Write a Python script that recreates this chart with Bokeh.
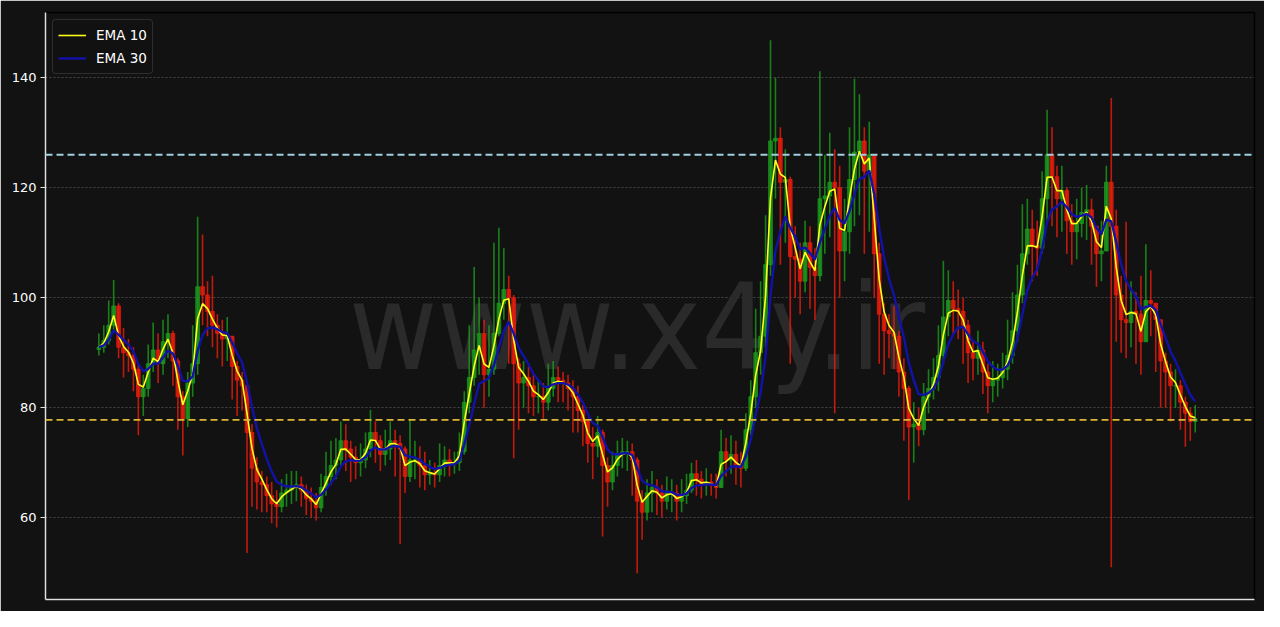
import numpy as np
import pandas as pd
from bokeh.plotting import figure
from bokeh.models import Span, FixedTicker, Range1d
from bokeh.core.properties import value
from bokeh.embed import file_html
from bokeh.resources import INLINE

# ---- data (one drawn candle ~ 5 source bars) ----
close = [
    91.0, 92.2, 95.0, 98.5, 91.0, 90.0, 89.5, 87.0, 82.0, 83.5,
    88.0, 90.5, 88.0, 92.0, 93.5, 88.5, 82.0, 78.0, 84.5, 88.0,
    102.0, 100.5, 97.5, 95.0, 93.5, 92.5, 93.0, 87.5, 85.0, 84.0,
    75.5, 69.0, 66.5, 66.0, 64.0, 62.5, 62.0, 64.5, 65.0, 65.5,
    66.0, 65.0, 63.5, 63.0, 61.8, 65.5, 67.5, 69.5, 70.5, 74.0,
    72.5, 71.0, 70.0, 70.5, 72.5, 75.5, 74.0, 71.5, 72.5, 74.0,
    73.5, 72.5, 67.5, 70.5, 70.5, 69.5, 67.8, 68.0, 67.8, 69.5,
    70.5, 70.0, 70.0, 72.0, 81.0, 85.5, 90.5, 93.5, 86.0, 87.0,
    93.5, 99.0, 101.5, 100.0, 88.0, 84.5, 85.5, 84.0, 82.0, 82.0,
    81.0, 83.5, 85.5, 85.0, 84.5, 83.5, 82.0, 79.5, 77.5, 73.5,
    73.0, 75.5, 69.5, 66.5, 69.5, 71.5, 72.0, 72.0, 70.5, 63.0,
    61.0, 64.5, 65.5, 64.5, 63.0, 64.5, 64.5, 63.0, 64.0, 65.0,
    68.0, 67.0, 66.0, 66.5, 66.0, 65.5, 72.0, 70.5, 71.5, 69.5,
    69.0, 76.0, 82.0, 90.0, 93.0, 106.0, 128.5, 129.0, 121.0, 121.5,
    107.5, 107.0, 103.0, 110.0, 105.5, 104.0, 118.0, 118.5, 121.0, 120.0,
    108.5, 112.0, 121.5, 126.5, 128.5, 123.0, 126.0, 108.0, 97.0, 94.0,
    93.5, 93.0, 86.5, 83.5, 76.5, 77.0, 76.0, 82.0, 83.5, 85.5,
    89.5, 96.5, 99.5, 98.0, 97.5, 95.0, 90.0, 89.0, 90.5, 86.5,
    84.0, 85.0, 85.5, 87.0, 89.5, 94.0, 100.5, 108.0, 112.5, 109.5,
    109.0, 118.0, 126.0, 122.0, 118.0, 119.5, 114.0, 112.0, 113.5, 115.5,
    116.0, 113.0, 108.0, 108.5, 121.0, 113.0, 100.5, 96.0, 95.5, 97.5,
    97.0, 92.0, 99.5, 99.0, 96.0, 88.5, 86.5, 84.0, 84.0, 81.0, 79.0, 77.5, 78.0,
]
high = [
    93.5, 95.0, 99.5, 103.2, 99.0, 94.5, 92.5, 91.0, 88.0, 86.0,
    91.5, 95.5, 93.5, 96.0, 97.0, 94.0, 89.0, 83.0, 86.5, 95.0,
    114.7, 111.5, 103.0, 104.0, 97.0, 96.0, 96.5, 93.0, 88.5, 86.5,
    84.5, 77.0, 71.0, 68.5, 67.5, 66.5, 65.0, 67.0, 68.0, 68.5,
    68.5, 67.5, 66.0, 65.5, 64.5, 68.0, 72.0, 74.0, 74.5, 77.5,
    77.0, 74.0, 73.0, 73.5, 75.5, 79.6, 77.5, 75.0, 76.0, 77.5,
    76.0, 75.0, 73.0, 78.0, 74.0, 73.0, 72.0, 70.5, 70.0, 73.5,
    73.0, 72.5, 72.0, 75.5, 83.0, 95.0, 105.6, 100.0, 96.0, 95.0,
    110.0, 112.7, 109.0, 104.0, 100.5, 89.0, 88.5, 87.5, 86.0, 85.0,
    84.5, 88.0, 88.5, 87.5, 86.5, 86.0, 85.0, 84.0, 80.5, 78.0,
    76.5, 78.5, 76.0, 71.0, 72.0, 74.0, 74.5, 74.0, 73.5, 71.0,
    65.0, 67.0, 68.5, 67.0, 66.0, 67.5, 67.0, 66.0, 67.0, 68.0,
    70.0, 70.5, 68.5, 69.0, 68.0, 68.0, 76.0, 74.5, 75.0, 74.0,
    72.0, 79.0, 85.0, 98.0, 103.0, 115.0, 146.8, 140.0, 131.0, 127.0,
    122.0, 113.0, 110.0, 114.0, 113.0, 109.0, 141.2, 126.0, 130.0, 127.0,
    124.0, 118.0, 131.0, 139.8, 137.0, 131.0, 132.0, 126.0, 110.0, 99.0,
    97.0, 98.5, 94.0, 89.0, 84.0, 81.0, 80.0, 84.5, 87.0, 89.0,
    95.0, 106.7, 105.0, 103.0, 101.5, 100.0, 96.0, 92.0, 94.0, 92.0,
    88.0, 88.5, 88.0, 90.0, 96.0, 101.0, 106.0, 117.0, 118.0, 116.0,
    114.0, 123.0, 134.2, 131.0, 124.0, 124.0, 120.0, 117.0, 118.0, 120.0,
    120.5, 118.0, 113.0, 114.0, 124.0, 136.3, 116.0, 104.0, 113.8, 103.0,
    101.0, 104.0, 109.7, 105.0, 99.0, 94.0, 90.0, 88.0, 87.0, 85.0, 82.0, 80.0, 80.5,
]
low = [
    89.5, 90.0, 91.5, 94.0, 89.0, 85.5, 86.5, 83.0, 75.0, 78.5,
    82.0, 86.5, 84.5, 86.0, 89.0, 84.0, 76.0, 71.3, 76.5, 82.0,
    86.0, 95.0, 93.0, 91.0, 89.0, 87.5, 88.5, 81.5, 78.5, 79.5,
    53.6, 62.0, 61.5, 61.0, 61.0, 59.0, 58.2, 61.0, 62.0, 62.5,
    63.0, 62.0, 60.5, 60.0, 59.5, 61.0, 64.0, 66.0, 67.0, 69.5,
    68.5, 66.5, 67.0, 67.5, 69.0, 71.0, 70.0, 68.5, 69.5, 70.5,
    67.5, 55.2, 64.5, 66.5, 67.0, 65.5, 65.0, 66.0, 65.5, 66.5,
    67.5, 67.5, 68.0, 68.5, 71.5, 79.0, 84.0, 86.0, 80.0, 82.0,
    86.0, 93.0, 96.0, 88.0, 70.8, 76.0, 80.0, 79.0, 78.5, 79.0,
    78.0, 79.5, 82.0, 81.0, 81.0, 79.5, 75.5, 75.5, 73.0, 70.0,
    67.0, 71.0, 56.6, 62.0, 65.0, 67.5, 69.0, 68.5, 64.0, 49.9,
    56.0, 59.5, 61.0, 60.5, 60.0, 61.5, 61.0, 59.5, 61.0, 62.5,
    64.5, 64.0, 63.5, 64.0, 64.0, 63.5, 66.0, 67.5, 68.0, 66.0,
    65.5, 68.5, 75.0, 80.0, 86.0, 91.0, 104.0, 118.0, 106.0, 110.0,
    88.0, 100.0, 97.0, 101.0, 98.0, 96.0, 103.0, 108.0, 111.0, 79.0,
    100.0, 103.0, 108.0, 113.0, 115.0, 108.0, 112.0, 100.0, 88.0, 86.0,
    89.0, 87.0, 82.0, 74.0, 63.2, 70.0, 73.0, 75.0, 79.0, 81.5,
    83.0, 88.0, 93.0, 93.5, 92.5, 88.0, 84.5, 85.0, 86.0, 82.5,
    79.0, 81.0, 82.0, 83.5, 85.0, 88.0, 92.0, 99.0, 106.0, 103.0,
    104.0, 108.0, 114.0, 113.0, 111.0, 112.0, 108.0, 106.0, 107.0, 111.0,
    110.5, 106.0, 102.0, 103.0, 109.0, 51.0, 92.0, 90.0, 89.0, 91.0,
    88.0, 86.0, 92.0, 93.0, 86.5, 80.0, 80.0, 77.5, 80.0, 76.0, 72.9, 74.0, 75.5,
]
first_open = 90.6
y_ticks = [60, 80, 100, 120, 140]
resistance_level = 126.0
support_level = 77.8
ema_fast_label = "EMA 10"
ema_slow_label = "EMA 30"
watermark_text = "www.x4y.ir"

# ---- derived ----
n = len(close)
idx = np.arange(n)
c = np.array(close, dtype=float)
o = np.array([first_open] + close[:-1], dtype=float)
hi = np.maximum.reduce([np.array(high, dtype=float), o, c])
lo = np.minimum.reduce([np.array(low, dtype=float), o, c])
up = c >= o
cols = np.where(up, "#1c9c1c", "#ee1c0c")

BARS_PER_CANDLE = 5
a_fast = 1 - (1 - 2 / 11) ** BARS_PER_CANDLE
a_slow = 1 - (1 - 2 / 31) ** BARS_PER_CANDLE
ema_fast = pd.Series(c).ewm(alpha=a_fast, adjust=False).mean().values
ema_slow = pd.Series(c).ewm(alpha=a_slow, adjust=False).mean().values

BG = "#121212"
p = figure(width=1264, height=611, output_backend="svg", toolbar_location=None,
           x_range=Range1d(-10.8, 234.0), y_range=Range1d(45.13, 151.86),
           background_fill_color=BG, border_fill_color=BG,
           min_border_left=45, min_border_top=12, min_border_right=10, min_border_bottom=12)
p.outline_line_color = "#000000"
p.outline_line_width = 1.5

# watermark
p.text(x=[109.0], y=[94.5], text=[watermark_text], text_font=value("DejaVu Sans Condensed"),
       text_font_size="120px", text_color="#2a2a2a", text_align="center",
       text_baseline="middle")

# candles
p.segment(x0=idx, y0=hi, x1=idx, y1=lo, line_color=cols, line_width=1.6, line_alpha=0.8)
p.vbar(x=idx, width=0.75, top=np.maximum(o, c), bottom=np.minimum(o, c),
       fill_color=cols, line_color=cols, fill_alpha=0.75, line_alpha=0.75)

# EMAs
p.line(idx, ema_fast, line_color="#ffff1a", line_width=1.6, legend_label=ema_fast_label)
p.line(idx, ema_slow, line_color="#1212a8", line_width=2.4, legend_label=ema_slow_label)

# horizontal levels
p.add_layout(Span(location=resistance_level, dimension="width", line_color="#9fcfe0",
                  line_dash="7 4", line_width=1.8))
p.add_layout(Span(location=support_level, dimension="width", line_color="#dcb534",
                  line_dash="7 4", line_width=1.8))

# grid
p.xgrid.visible = False
p.ygrid.ticker = FixedTicker(ticks=y_ticks)
p.ygrid.grid_line_color = "#555555"
p.ygrid.grid_line_dash = "2 2"
p.ygrid.grid_line_width = 0.8

# axes
p.yaxis.ticker = FixedTicker(ticks=y_ticks)
p.yaxis.major_label_text_color = "#ffffff"
p.yaxis.major_label_text_font = "DejaVu Sans"
p.yaxis.major_label_text_font_size = "13px"
p.yaxis.axis_line_color = "#e0e0e0"
p.yaxis.axis_line_width = 1.5
p.yaxis.major_tick_line_color = "#e0e0e0"
p.yaxis.major_tick_out = 5
p.yaxis.major_tick_in = 0
p.yaxis.minor_tick_out = 0
p.yaxis.minor_tick_in = 0
p.yaxis.major_label_standoff = 4

p.xaxis.ticker = FixedTicker(ticks=[])
p.xaxis.major_label_text_font_size = "0px"
p.xaxis.major_tick_out = 0
p.xaxis.major_tick_in = 0
p.xaxis.minor_tick_out = 0
p.xaxis.minor_tick_in = 0
p.xaxis.major_label_standoff = 0
p.xaxis.axis_line_color = "#e0e0e0"
p.xaxis.axis_line_width = 1.5

# legend
lg = p.legend[0]
lg.location = "top_left"
lg.margin = 7
lg.padding = 5
lg.spacing = 3
lg.glyph_width = 28
lg.glyph_height = 20
lg.label_standoff = 10
lg.label_text_color = "#ffffff"
lg.label_text_font = "DejaVu Sans"
lg.label_text_font_size = "13.5px"
lg.background_fill_color = BG
lg.background_fill_alpha = 0.9
lg.border_line_color = "#4a4a4a"
lg.border_line_width = 1
lg.border_radius = 4

open("out.html", "w").write(file_html(p, INLINE))
